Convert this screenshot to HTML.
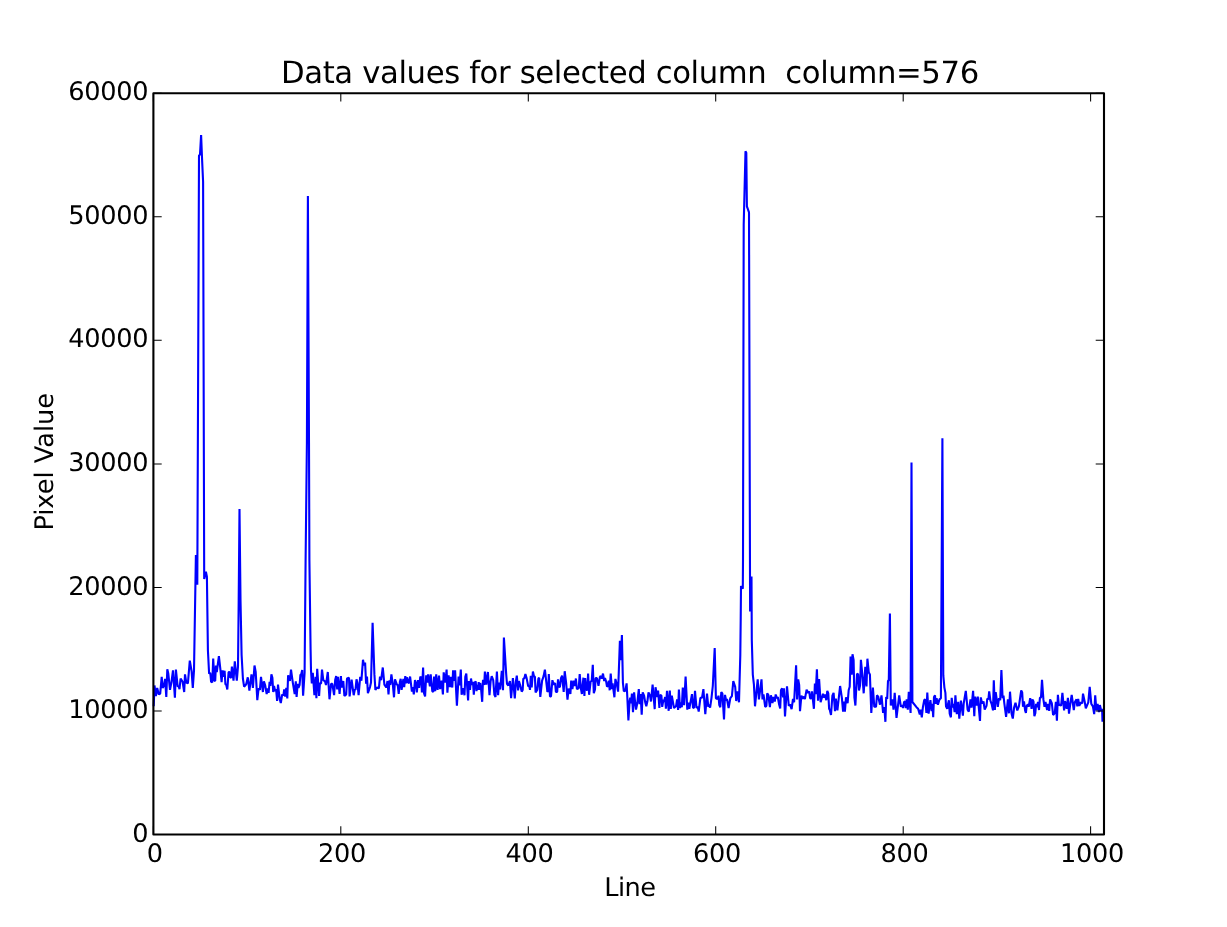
<!DOCTYPE html>
<html><head><meta charset="utf-8"><title>Data values for selected column</title>
<style>html,body{margin:0;padding:0;background:#fff;overflow:hidden}svg{display:block;will-change:transform}text{text-rendering:geometricPrecision}</style>
</head><body>
<svg width="1227" height="927" viewBox="0 0 1227 927">
<rect x="0" y="0" width="1227" height="927" fill="#fff"/>
<polyline fill="none" stroke="#0000ff" stroke-width="2.1" stroke-linejoin="bevel" stroke-linecap="butt" points="153.7,706.2 154.5,685.5 155.9,696.0 157.2,687.9 158.8,694.4 160.2,693.6 161.7,676.9 162.6,687.9 163.9,685.9 165.1,678.9 166.3,696.9 167.3,669.2 168.3,673.6 170.0,689.9 171.4,682.6 173.0,670.4 174.9,697.7 175.9,669.6 177.7,686.7 178.5,685.9 179.5,689.1 180.6,678.5 182.6,681.8 184.2,692.0 185.0,674.4 186.3,682.6 187.9,683.4 189.8,660.6 191.6,671.2 192.8,687.9 194.0,670.4 195.9,555.0 197.3,584.7 199.0,155.5 200.0,154.5 201.1,135.0 202.1,160.0 203.1,182.0 204.2,579.0 205.9,571.8 206.9,576.6 207.9,650.0 209.1,673.6 210.3,672.8 211.1,681.8 212.3,682.2 213.2,658.6 214.4,680.6 215.2,681.0 215.9,665.5 216.8,672.0 218.9,656.1 220.5,670.4 221.6,682.2 222.5,670.4 223.3,676.9 224.6,670.8 225.4,684.2 226.2,684.6 227.3,689.5 228.6,672.0 229.5,672.0 230.3,677.7 231.1,677.3 231.9,666.7 233.5,680.6 234.8,661.4 236.8,680.6 238.0,666.3 238.7,600.0 239.5,508.9 240.5,600.0 241.6,655.0 242.9,678.5 244.1,686.7 246.2,684.2 247.8,677.3 249.4,690.7 251.5,674.4 252.9,687.9 254.5,665.5 255.7,672.0 257.3,700.1 258.6,688.3 259.9,689.9 261.0,676.9 262.9,692.0 263.9,681.4 265.1,685.0 266.7,694.0 267.5,688.3 268.6,692.8 269.6,681.8 270.4,685.9 271.4,674.4 272.4,677.7 273.2,692.0 274.0,685.9 275.3,691.2 276.1,689.1 277.1,700.9 278.0,684.6 279.7,698.9 280.8,703.0 282.2,694.4 283.4,695.6 284.2,689.5 285.2,696.5 286.3,687.9 287.3,698.5 288.1,675.3 289.9,681.0 291.0,669.6 292.8,682.6 294.7,694.0 295.8,681.4 296.6,696.9 297.7,683.8 298.5,687.9 299.6,685.0 300.4,674.9 301.2,674.4 302.2,670.0 303.1,695.6 304.6,672.8 305.6,560.0 306.9,443.0 307.9,196.0 309.0,443.0 309.4,560.0 310.6,650.0 311.0,670.4 311.8,683.4 312.8,672.8 314.4,695.2 315.6,676.9 316.4,698.1 317.2,668.7 319.1,696.0 319.9,683.4 321.1,683.4 322.0,669.6 323.3,680.2 325.0,681.4 326.0,685.0 327.8,672.0 329.5,699.3 331.1,683.8 332.3,683.8 334.1,695.2 335.2,679.7 336.2,676.1 337.2,689.5 338.0,676.9 339.6,694.0 340.9,676.1 341.7,687.5 343.3,681.0 344.4,696.0 346.2,694.4 347.0,678.5 349.0,677.7 349.6,696.5 351.6,679.7 353.7,695.2 354.9,689.1 355.5,689.9 356.5,679.3 357.3,682.6 358.6,695.2 360.2,676.9 361.4,680.6 363.0,659.8 364.0,665.5 365.1,662.6 366.1,683.8 367.0,676.5 367.9,693.2 370.0,687.1 371.0,682.6 372.6,622.7 374.4,674.4 375.4,689.9 376.9,687.5 378.9,688.3 380.0,676.5 381.1,680.2 382.8,667.5 384.4,684.6 386.3,687.5 387.5,681.0 388.5,694.4 389.5,680.2 390.3,685.0 391.4,674.4 392.8,684.2 394.0,697.3 395.0,679.3 396.9,684.6 397.7,685.0 398.7,694.0 399.9,681.8 400.7,678.9 401.6,689.9 403.4,678.9 404.2,687.1 405.3,676.1 406.2,683.4 407.0,677.3 408.3,682.6 409.1,683.0 410.1,676.5 411.9,691.6 412.8,687.1 413.8,694.4 415.0,680.2 415.9,682.6 416.8,692.4 418.1,680.2 419.1,687.9 420.3,676.5 421.3,678.5 421.9,692.4 423.1,667.5 424.0,693.2 425.1,696.5 426.2,675.3 427.3,682.6 428.1,674.4 429.9,686.3 430.7,674.4 432.3,691.2 433.3,692.0 434.1,676.5 435.2,691.2 436.2,674.4 437.6,689.9 439.0,675.7 440.1,689.1 441.7,680.6 442.9,694.4 443.7,672.4 445.4,682.6 446.6,669.6 447.4,692.8 448.6,675.3 450.0,687.1 451.0,676.9 452.3,687.5 453.1,670.4 454.2,681.0 455.1,670.4 456.9,705.8 458.6,676.5 459.6,685.5 460.8,669.6 461.6,694.8 463.0,688.3 464.5,695.2 465.3,676.9 466.3,673.6 468.1,700.5 468.9,681.0 470.0,689.9 471.0,678.5 472.0,685.0 473.0,681.8 473.8,694.8 474.6,682.6 475.7,681.4 476.5,691.2 477.3,685.0 477.9,689.9 478.7,682.2 479.5,689.9 480.3,683.0 481.1,689.1 482.2,701.8 483.0,679.7 484.2,685.0 484.9,671.6 486.3,684.6 487.9,672.0 489.5,695.2 490.6,681.4 491.7,676.1 493.2,680.2 494.4,694.8 495.5,696.9 496.9,671.6 498.1,695.2 499.1,682.6 500.1,689.5 501.8,670.8 503.0,690.3 503.9,637.6 506.2,674.4 507.0,683.8 508.3,685.5 509.9,681.0 511.1,698.1 512.9,678.1 514.8,698.5 515.9,681.4 516.8,675.7 518.1,690.3 518.9,681.0 520.1,685.0 521.7,691.6 522.7,689.9 523.3,678.5 524.3,678.5 525.4,674.0 526.6,678.1 528.2,686.3 529.2,685.9 530.0,689.9 530.8,675.7 531.7,687.5 532.9,671.6 533.9,676.1 534.9,676.9 535.6,692.4 537.2,689.9 538.4,678.5 539.2,677.7 540.3,696.9 542.1,680.6 543.6,676.1 544.9,669.6 547.4,692.0 548.2,690.7 548.8,674.0 550.0,696.5 551.0,696.5 552.4,680.2 553.7,684.6 555.1,683.0 555.9,692.0 557.2,692.0 558.0,679.3 559.0,686.7 559.9,687.1 561.0,678.1 562.1,675.7 563.7,692.0 564.7,671.2 566.1,682.6 567.5,699.7 568.6,688.7 569.4,690.3 570.4,694.0 571.2,680.6 572.4,689.1 573.6,680.6 574.9,685.9 575.9,678.5 576.9,689.1 578.7,688.3 579.7,674.0 581.0,689.1 581.9,694.0 583.4,677.7 584.4,696.0 585.2,678.1 586.3,689.9 587.3,689.9 588.1,673.6 589.1,694.8 590.7,681.0 591.7,681.4 592.8,664.7 593.8,693.2 595.0,689.5 595.6,678.1 596.9,678.1 598.5,685.9 599.9,676.9 600.7,676.1 601.8,678.5 603.0,673.6 604.2,681.0 605.0,678.1 606.2,681.8 607.0,686.7 608.0,685.9 608.8,680.6 609.7,690.3 610.7,673.6 611.9,689.1 612.6,683.4 614.4,697.3 615.4,678.9 616.8,684.2 618.1,691.6 619.9,640.9 620.9,660.3 621.9,635.0 622.9,682.6 623.8,691.2 625.4,690.7 626.6,683.4 627.4,698.9 628.4,720.5 629.7,700.5 630.3,697.7 631.1,703.4 631.9,693.6 633.0,712.3 634.1,692.4 635.2,703.0 636.0,709.5 637.2,703.8 638.8,689.1 639.6,704.2 640.6,694.0 641.7,714.8 642.7,692.4 644.1,695.6 645.2,702.2 646.3,706.2 647.4,701.3 648.5,692.4 650.0,695.6 651.0,701.5 652.6,684.7 654.7,709.2 655.5,687.2 657.3,697.0 658.1,690.5 659.4,708.0 660.2,694.9 661.4,695.7 662.2,706.8 663.4,699.8 664.0,701.9 665.1,697.0 665.9,708.8 667.0,690.9 668.7,710.8 669.8,690.5 670.8,708.8 671.8,695.7 674.0,708.0 676.1,705.9 677.1,699.4 678.1,710.0 678.9,689.6 680.0,708.0 680.8,702.3 681.8,707.2 682.8,687.6 684.1,705.1 685.6,676.6 687.3,709.6 688.3,702.7 689.3,708.8 692.0,694.1 693.0,707.6 694.0,708.0 695.0,690.9 696.5,708.0 697.7,706.8 698.7,711.6 700.4,697.8 702.0,697.8 703.4,689.2 705.3,714.1 707.0,693.7 708.3,706.8 709.1,704.7 710.1,707.6 711.5,697.8 712.8,686.0 714.7,648.1 715.9,698.2 717.5,699.0 718.5,695.7 719.3,705.1 720.3,707.2 721.3,692.1 722.4,693.7 724.0,719.4 725.0,694.9 726.2,700.6 727.0,699.0 728.6,708.0 730.3,698.2 731.9,696.2 733.3,681.1 735.2,686.8 736.2,701.0 737.6,691.3 739.0,702.3 740.3,655.0 740.7,620.0 741.0,586.0 742.8,588.7 743.0,560.0 743.7,225.0 745.5,151.4 746.3,152.7 746.9,206.4 749.0,212.4 750.1,611.5 751.5,576.6 751.8,640.0 752.8,674.6 753.9,684.3 755.0,706.3 757.7,679.4 758.9,699.4 760.3,689.2 761.5,679.4 762.5,699.4 763.5,694.5 765.2,706.8 766.4,705.9 767.2,693.3 768.3,694.9 769.9,707.2 770.9,695.3 772.5,703.1 773.3,697.0 774.8,701.5 775.7,694.5 777.0,698.2 777.8,697.0 779.0,703.9 780.2,708.4 781.0,690.0 782.1,688.4 783.1,697.4 783.9,688.4 785.0,716.5 787.0,686.4 788.8,705.9 790.0,704.3 791.6,709.2 793.0,699.0 794.1,702.3 796.1,665.2 797.1,699.4 798.2,679.4 799.2,685.2 800.0,711.2 801.4,695.7 802.6,698.6 803.9,696.6 804.9,699.0 806.6,689.6 807.9,692.9 809.2,691.3 810.1,698.2 811.2,698.6 812.0,691.3 813.9,708.8 814.9,683.5 815.7,694.1 816.9,669.3 818.0,700.6 819.1,679.0 820.6,702.3 823.0,693.7 824.2,697.8 825.1,694.5 826.3,700.2 827.3,690.9 828.3,693.3 829.1,708.8 829.7,709.6 831.0,714.9 832.4,695.7 833.6,692.9 835.0,711.2 835.8,698.6 837.4,710.4 840.1,686.0 841.9,698.2 843.1,711.6 844.0,701.5 844.9,711.6 846.0,697.4 847.6,703.1 848.7,690.0 849.7,686.8 850.6,656.5 851.7,674.6 852.5,654.2 853.6,659.9 854.4,697.4 855.4,705.5 857.0,673.7 858.1,674.2 859.0,690.5 860.1,685.2 860.9,659.9 862.3,674.2 863.7,693.3 865.3,666.8 866.5,686.4 867.4,658.7 868.8,672.5 869.9,674.6 871.3,712.9 872.9,687.6 874.3,706.8 876.0,706.8 877.0,695.3 878.2,696.6 880.0,704.7 881.5,695.3 883.1,712.9 884.3,707.2 885.4,721.8 886.2,697.0 887.2,699.0 888.0,680.7 888.8,680.3 889.9,613.4 890.8,705.5 892.5,699.4 893.5,709.6 894.7,692.9 896.5,717.8 899.2,695.3 900.9,706.8 902.0,705.1 903.1,708.0 904.1,701.9 905.1,701.5 905.9,708.0 906.7,699.4 907.8,709.6 908.8,691.7 910.6,713.0 911.5,462.4 912.4,702.0 916.5,707.2 918.1,708.8 919.8,714.5 920.6,709.6 921.8,717.3 922.9,707.2 924.2,700.2 925.3,699.4 926.4,712.9 927.3,692.5 928.6,713.7 930.4,700.2 931.6,711.2 932.4,703.9 933.2,717.3 934.0,697.0 935.0,695.3 935.7,703.9 936.6,698.2 937.9,704.7 939.5,699.4 940.9,698.2 942.4,438.3 943.3,675.4 944.4,687.6 945.4,692.9 946.0,706.3 947.2,708.8 948.0,703.9 948.9,700.2 949.7,713.7 950.9,717.3 951.7,697.8 952.8,707.6 953.6,703.9 954.6,712.0 955.4,695.3 956.8,714.1 958.2,701.9 959.3,718.6 960.9,700.6 962.9,715.7 963.7,703.5 965.8,690.9 967.6,709.6 968.8,711.6 970.5,699.4 971.5,707.6 973.1,690.9 974.3,716.1 975.1,696.6 976.6,705.5 977.8,696.6 980.0,721.0 980.8,697.4 982.1,703.5 983.5,701.5 984.7,709.6 986.5,705.9 987.3,698.6 988.4,699.4 989.2,691.3 990.4,700.6 991.6,703.9 993.0,710.4 993.8,680.3 994.9,710.0 995.7,692.1 997.8,706.8 999.0,698.2 1000.2,700.2 1001.4,670.1 1002.6,698.2 1003.5,695.7 1004.3,703.1 1006.1,716.9 1007.9,699.4 1009.0,713.3 1010.0,691.7 1011.6,713.7 1012.8,718.6 1014.1,707.6 1015.5,702.7 1017.3,710.4 1018.9,706.3 1021.2,690.5 1022.2,692.5 1023.0,706.8 1024.0,701.5 1025.1,710.4 1025.9,712.9 1026.7,705.9 1027.9,704.3 1028.7,706.8 1030.2,698.2 1031.6,708.8 1032.4,699.4 1033.5,701.5 1034.4,716.1 1035.3,713.3 1036.1,703.9 1036.9,707.2 1038.0,701.9 1039.0,710.0 1039.9,697.8 1041.0,697.4 1042.0,679.9 1043.4,699.4 1044.5,706.8 1045.5,701.9 1047.1,710.0 1048.1,703.9 1049.2,710.8 1050.1,699.4 1051.8,703.1 1053.1,714.9 1054.7,713.3 1055.9,701.9 1056.9,720.6 1057.9,694.9 1058.9,705.5 1060.2,704.3 1061.1,705.9 1062.4,692.9 1064.1,710.4 1065.0,701.0 1066.7,708.8 1067.9,697.8 1069.0,713.7 1070.3,703.9 1071.7,694.9 1073.8,710.0 1074.8,702.3 1076.5,699.4 1077.3,706.3 1078.2,699.0 1079.3,705.9 1080.9,702.3 1082.2,703.5 1083.0,693.7 1084.8,702.3 1085.8,708.4 1088.3,702.3 1089.7,686.8 1091.3,703.9 1092.9,706.3 1094.2,714.1 1095.2,695.3 1096.4,710.4 1097.6,703.9 1098.9,712.0 1099.9,705.1 1101.3,711.2 1102.1,708.8 1102.5,721.8"/>
<rect x="153.4" y="93.2" width="950.6" height="741.3" fill="none" stroke="#000" stroke-width="2.1" stroke-linejoin="round"/>
<path d="M153.4 834.5v-8.3M153.4 93.2v8.3M340.8 834.5v-8.3M340.8 93.2v8.3M528.3 834.5v-8.3M528.3 93.2v8.3M715.7 834.5v-8.3M715.7 93.2v8.3M903.2 834.5v-8.3M903.2 93.2v8.3M1090.6 834.5v-8.3M1090.6 93.2v8.3M153.4 834.5h8.3M1104.0 834.5h-8.3M153.4 711.0h8.3M1104.0 711.0h-8.3M153.4 587.4h8.3M1104.0 587.4h-8.3M153.4 463.9h8.3M1104.0 463.9h-8.3M153.4 340.3h8.3M1104.0 340.3h-8.3M153.4 216.8h8.3M1104.0 216.8h-8.3M153.4 93.2h8.3M1104.0 93.2h-8.3" stroke="#000" stroke-width="1.05" fill="none"/>
<g font-family="'DejaVu Sans','Liberation Sans',sans-serif" font-size="25.6" letter-spacing="-0.29" fill="#000"><text transform="translate(154.7,862.1)" text-anchor="middle">0</text><text transform="translate(342.1,862.1)" text-anchor="middle">200</text><text transform="translate(529.6,862.1)" text-anchor="middle">400</text><text transform="translate(717.0,862.1)" text-anchor="middle">600</text><text transform="translate(904.5,862.1)" text-anchor="middle">800</text><text transform="translate(1091.9,862.1)" text-anchor="middle">1000</text><text transform="translate(148.3,841.9)" text-anchor="end">0</text><text transform="translate(148.3,718.3)" text-anchor="end">10000</text><text transform="translate(148.3,594.8)" text-anchor="end">20000</text><text transform="translate(148.3,470.9)" text-anchor="end">30000</text><text transform="translate(148.3,347.4)" text-anchor="end">40000</text><text transform="translate(148.3,223.7)" text-anchor="end">50000</text><text transform="translate(148.3,100.1)" text-anchor="end">60000</text><text transform="translate(629.9,896.1)" text-anchor="middle" letter-spacing="-0.5">Line</text><text transform="translate(52.8,461.8) rotate(-90)" text-anchor="middle" letter-spacing="0">Pixel Value</text></g>
<text x="629.9" y="83" text-anchor="middle" font-family="'DejaVu Sans','Liberation Sans',sans-serif" font-size="30.7" letter-spacing="-0.365" fill="#000" xml:space="preserve" style="white-space:pre">Data values for selected column  column=576</text>
</svg>
</body></html>
